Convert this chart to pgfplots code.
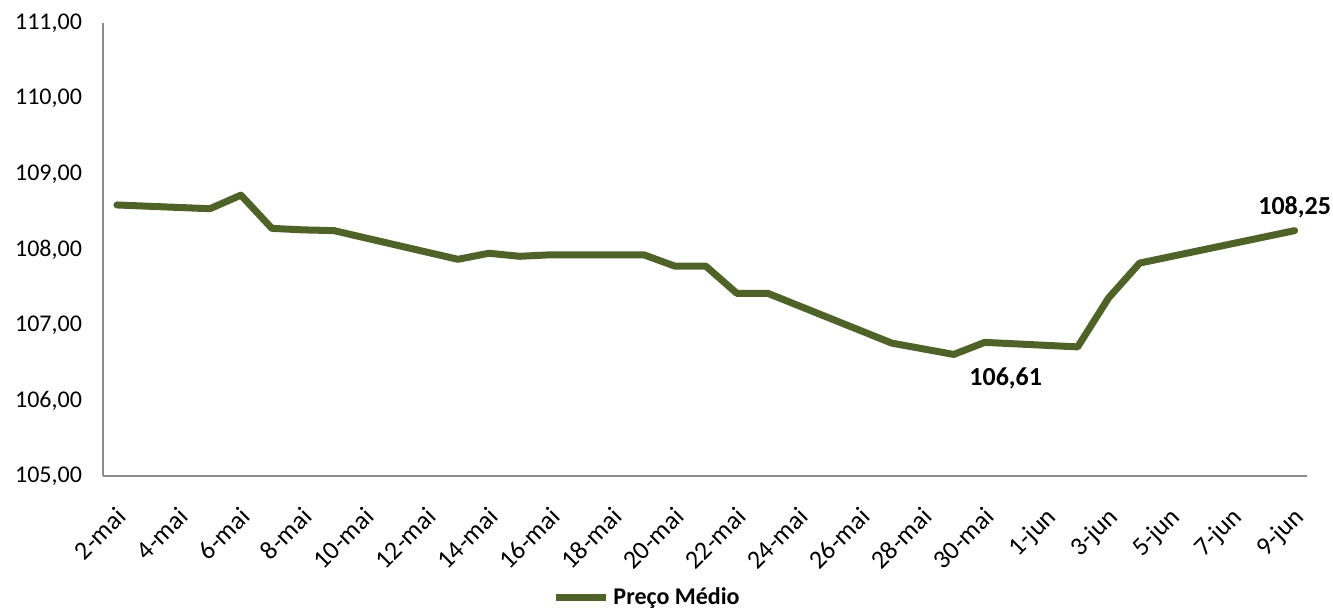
\documentclass[border=0pt]{standalone}
\usepackage{fontspec}
\setmainfont{Carlito}
\usepackage{pgfplots}
\pgfplotsset{compat=1.18}

\definecolor{olive}{HTML}{4F6228}
\definecolor{axisgray}{HTML}{8C8C8C}

% Preço médio: day offset from 2-mai, price
\pgfplotstableread{
day price
0  108.59
3  108.54
4  108.72
5  108.28
6  108.26
7  108.25
11 107.87
12 107.95
13 107.91
14 107.93
17 107.93
18 107.78
19 107.78
20 107.42
21 107.42
25 106.76
27 106.61
28 106.77
31 106.71
32 107.36
33 107.82
38 108.25
}\precos

\begin{document}
\begin{tikzpicture}
\path[use as bounding box] (-51.5pt,-66pt) rectangle (615pt,238pt);
\begin{axis}[
  at={(0,0)}, anchor=south west,
  width=602pt, height=226.5pt, scale only axis,
  clip mode=individual,
  xmin=-0.45, xmax=38.4,
  ymin=105, ymax=111,
  axis lines*=left,
  axis line style={draw=axisgray, line width=0.9pt},
  major tick length=0pt,
  xtick={0,2,...,38},
  xticklabels={2-mai,4-mai,6-mai,8-mai,10-mai,12-mai,14-mai,16-mai,18-mai,20-mai,22-mai,24-mai,26-mai,28-mai,30-mai,1-jun,3-jun,5-jun,7-jun,9-jun},
  ytick={105,106,...,111},
  /pgf/number format/fixed,
  /pgf/number format/fixed zerofill,
  /pgf/number format/precision=2,
  /pgf/number format/use comma,
  /pgf/number format/assume math mode=true,
  tick label style={text=black},
  yticklabel style={font=\fontsize{12}{14}\selectfont, xshift=-7pt},
  xticklabel style={font=\fontsize{13}{15}\selectfont, xshift=-1pt, yshift=-10pt, rotate=45, anchor=north east},
  legend style={at={(0.4527,-0.269)}, anchor=center, draw=none, fill=none,
    font=\fontsize{12}{14}\selectfont\bfseries, legend columns=1},
  legend image code/.code={\draw[#1, line cap=butt] (0pt,0pt) -- (25pt,0pt);},
]
\addplot[olive, line width=3.5pt, line cap=round, line join=round] table[x=day, y=price] {\precos};
\addlegendentry{Preço Médio}
\node[font=\fontsize{13}{15}\selectfont\bfseries, anchor=south, yshift=3pt] at (axis cs:38,108.25) {108,25};
\node[font=\fontsize{13}{15}\selectfont\bfseries, xshift=26pt, yshift=-12pt] at (axis cs:27,106.61) {106,61};
\end{axis}
\end{tikzpicture}
\end{document}
